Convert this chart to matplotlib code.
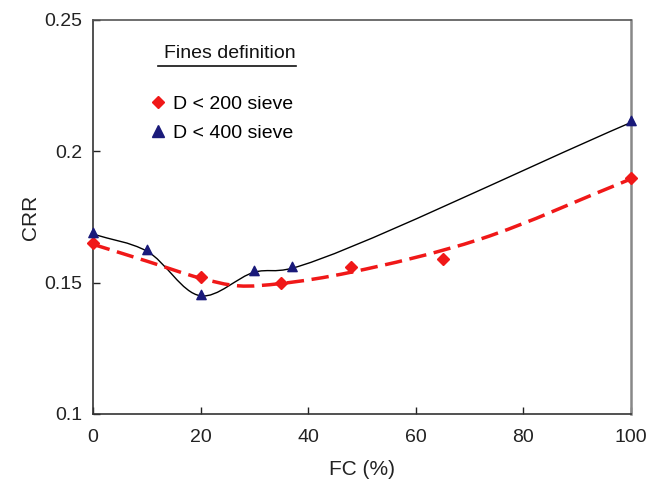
import numpy as np
import matplotlib
matplotlib.use("Agg")
import matplotlib.pyplot as plt
from matplotlib.path import Path
from matplotlib.patches import PathPatch
from matplotlib.lines import Line2D

plt.rcParams['font.family'] = ['Liberation Sans', 'DejaVu Sans']

# Data
fc_200 = [0, 20, 35, 48, 65, 100]
crr_200 = [0.165, 0.152, 0.150, 0.156, 0.159, 0.190]
fc_400 = [0, 10, 20, 30, 37, 100]
crr_400 = [0.1685, 0.162, 0.145, 0.154, 0.1555, 0.211]
# dashed trend curve for the 200-sieve data
fc_trend = [0, 10, 20, 27, 35, 48, 72, 100]
crr_trend = [0.1646, 0.1582, 0.1517, 0.1488, 0.1497, 0.1540, 0.1666, 0.1895]

label_200 = "D < 200 sieve"
label_400 = "D < 400 sieve"
legend_title = "Fines definition"
x_ticks = [0, 20, 40, 60, 80, 100]
y_ticks = [0.1, 0.15, 0.2, 0.25]
y_tick_labels = ["0.1", "0.15", "0.2", "0.25"]

red = '#f01818'
navy = '#1a1a7a'

# triangle marker with its centroid at the data point
tri = Path([(0, 4/3), (-1, -2/3), (1, -2/3), (0, 4/3)],
           [Path.MOVETO, Path.LINETO, Path.LINETO, Path.CLOSEPOLY])

fig = plt.figure(figsize=(6.56, 4.8), dpi=100)
ax = fig.add_axes([93/656, 1-414/480, (631-93)/656, (414-20)/480])
ax.set_xlim(0, 100)
ax.set_ylim(0.1, 0.25)


def smooth_path(xv, yv, alpha=0.5):
    """Centripetal Catmull-Rom through the points, built in display space."""
    P = ax.transData.transform(np.column_stack([xv, yv]))
    n = len(P)
    verts = [P[0]]
    codes = [Path.MOVETO]
    for i in range(n - 1):
        p1, p2 = P[i], P[i + 1]
        p0 = P[i - 1] if i > 0 else 2 * p1 - p2
        p3 = P[i + 2] if i + 2 < n else 2 * p2 - p1
        d1 = np.linalg.norm(p1 - p0) ** alpha
        d2 = np.linalg.norm(p2 - p1) ** alpha
        d3 = np.linalg.norm(p3 - p2) ** alpha
        b1 = (d1**2 * p2 - d2**2 * p0 + (2*d1**2 + 3*d1*d2 + d2**2) * p1) / (3*d1*(d1 + d2))
        b2 = (d3**2 * p1 - d2**2 * p3 + (2*d3**2 + 3*d3*d2 + d2**2) * p2) / (3*d3*(d3 + d2))
        verts += [b1, b2, p2]
        codes += [Path.CURVE4] * 3
    verts = ax.transData.inverted().transform(np.array(verts))
    return Path(verts, codes)


ax.add_patch(PathPatch(smooth_path(fc_400, crr_400), facecolor='none',
                       edgecolor='black', lw=1.0, zorder=2))
ax.add_patch(PathPatch(smooth_path(fc_trend, crr_trend), facecolor='none',
                       edgecolor=red, lw=2.5, linestyle=(0, (5, 2.2)), zorder=3))

ax.plot(fc_200, crr_200, linestyle='none', marker='D', ms=6.5, color=red, mec=red, zorder=4, clip_on=False)
ax.plot(fc_400, crr_400, linestyle='none', marker=tri, ms=9, color=navy, mec=navy, zorder=4, clip_on=False)

ax.set_xticks(x_ticks)
ax.set_yticks(y_ticks)
ax.set_yticklabels(y_tick_labels)
ax.tick_params(direction='in', length=5, width=1, labelsize=14, colors='#222222')
ax.tick_params(axis='x', pad=11)
ax.tick_params(axis='y', pad=8)
for s in ['left', 'bottom']:
    ax.spines[s].set_color('#333333')
    ax.spines[s].set_linewidth(1.2)
ax.spines['top'].set_color('#555555')
ax.spines['top'].set_linewidth(1.2)
ax.spines['right'].set_color('#888888')
ax.spines['right'].set_linewidth(1.8)

ax.set_xlabel("FC (%)", fontsize=15, labelpad=10, color='#222222')
ax.set_ylabel("CRR", fontsize=15, labelpad=3, color='#222222')

# Legend title with underline
fig.text(230/656, 1-53/480, legend_title, fontsize=14, ha='center', va='center', color='#111111')
fig.add_artist(Line2D([158/656, 296/656], [1-66/480, 1-66/480], color='#111111', lw=1.2))

handles = [
    Line2D([], [], linestyle='none', marker='D', ms=6.5, color=red, label=label_200),
    Line2D([], [], linestyle='none', marker='^', ms=9, color=navy, label=label_400),
]
ax.legend(handles=handles, loc='upper left', bbox_to_anchor=(149/656, 1-95/480),
          bbox_transform=fig.transFigure, frameon=False, fontsize=14,
          handlelength=0.9, handletextpad=0.35, labelspacing=0.62,
          borderpad=0, borderaxespad=0)

fig.savefig("out.png", dpi=100)
